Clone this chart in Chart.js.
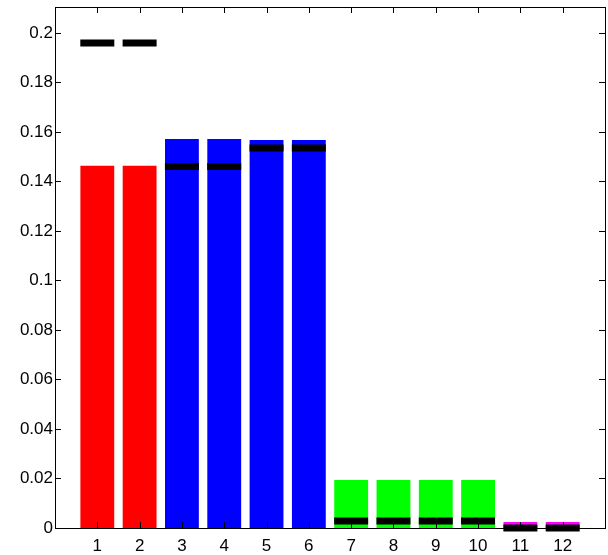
<!DOCTYPE html>
<html>
<head>
<meta charset="utf-8">
<script src="https://cdn.jsdelivr.net/npm/chart.js@4/dist/chart.umd.min.js"></script>
<style>
  html, body { margin: 0; padding: 0; background: #ffffff; }
  canvas { display: block; }
</style>
</head>
<body>
<canvas id="chart" width="608" height="555"></canvas>
<script>
// Category positions along the x axis
const categories = [1, 2, 3, 4, 5, 6, 7, 8, 9, 10, 11, 12];
// Bar heights
const barValues = [0.1464, 0.1464, 0.1572, 0.1572, 0.1568, 0.1568,
                   0.0194, 0.0194, 0.0194, 0.0194, 0.0024, 0.0024];
// Black reference marks drawn across each bar
const markerValues = [0.1960, 0.1960, 0.1461, 0.1461, 0.1535, 0.1535,
                      0.0028, 0.0028, 0.0028, 0.0028, 0.0000, 0.0000];
// Fill colour of each bar (four groups)
const barColors = ['#ff0000', '#ff0000', '#0000ff', '#0000ff', '#0000ff', '#0000ff',
                   '#00ff00', '#00ff00', '#00ff00', '#00ff00', '#ff00ff', '#ff00ff'];
// Y axis tick values
const yTicks = [0, 0.02, 0.04, 0.06, 0.08, 0.1, 0.12, 0.14, 0.16, 0.18, 0.2];

Chart.defaults.font.family = '"Liberation Sans", Arial, Helvetica, sans-serif';
Chart.defaults.font.size = 17;
Chart.defaults.color = '#000000';

// Axes box with inward-pointing tick marks on all four sides
const boxAxes = {
  id: 'boxAxes',
  afterDatasetsDraw(chart) {
    const { ctx, chartArea: a, scales } = chart;
    const len = 6;
    ctx.save();
    ctx.strokeStyle = '#000000';
    ctx.lineWidth = 1;
    ctx.beginPath();
    scales.y.ticks.forEach(t => {
      const py = Math.round(scales.y.getPixelForValue(t.value)) + 0.5;
      ctx.moveTo(a.left, py); ctx.lineTo(a.left + len, py);
      ctx.moveTo(a.right, py); ctx.lineTo(a.right - len, py);
    });
    scales.x.ticks.forEach(t => {
      const px = Math.round(scales.x.getPixelForValue(t.value)) + 0.5;
      ctx.moveTo(px, a.bottom); ctx.lineTo(px, a.bottom - len);
      ctx.moveTo(px, a.top); ctx.lineTo(px, a.top + len);
    });
    ctx.stroke();
    ctx.strokeRect(Math.round(a.left) + 0.5, Math.round(a.top) + 0.5,
                   Math.round(a.right - a.left), Math.round(a.bottom - a.top));
    ctx.restore();
  }
};

new Chart(document.getElementById('chart'), {
  type: 'bar',
  data: {
    datasets: [
      {
        type: 'line',
        data: categories.map((c, i) => ({ x: c, y: markerValues[i] })),
        showLine: false,
        pointStyle: 'line',
        pointRadius: 17,
        pointHoverRadius: 17,
        pointBorderWidth: 7,
        pointHoverBorderWidth: 7,
        borderColor: '#000000',
        backgroundColor: '#000000',
        clip: false,
        order: 0
      },
      {
        type: 'bar',
        data: categories.map((c, i) => ({ x: c, y: barValues[i] })),
        backgroundColor: barColors,
        borderWidth: 0,
        barPercentage: 0.8,
        categoryPercentage: 1.0,
        order: 1
      }
    ]
  },
  options: {
    responsive: false,
    animation: false,
    events: [],
    layout: { autoPadding: false, padding: { top: 7, right: 3, bottom: 0, left: 0 } },
    plugins: {
      legend: { display: false },
      tooltip: { enabled: false }
    },
    scales: {
      x: {
        type: 'linear',
        min: 0,
        max: 13,
        offset: false,
        grid: { display: false, drawTicks: false, offset: false },
        border: { display: false },
        afterBuildTicks(scale) { scale.ticks = categories.map(v => ({ value: v })); },
        afterFit(scale) { scale.height = 27; scale.paddingLeft = 0; scale.paddingRight = 0; },
        ticks: {
          autoSkip: false,
          maxRotation: 0,
          padding: 8,
          callback: v => String(v)
        }
      },
      y: {
        type: 'linear',
        min: 0,
        max: 0.2105,
        grid: { display: false, drawTicks: false },
        border: { display: false },
        afterBuildTicks(scale) { scale.ticks = yTicks.map(v => ({ value: v })); },
        afterFit(scale) { scale.width = 55; scale.paddingTop = 0; scale.paddingBottom = 0; },
        ticks: {
          padding: 2,
          callback: v => String(Number(v.toFixed(2)))
        }
      }
    }
  },
  plugins: [boxAxes]
});
</script>
</body>
</html>
